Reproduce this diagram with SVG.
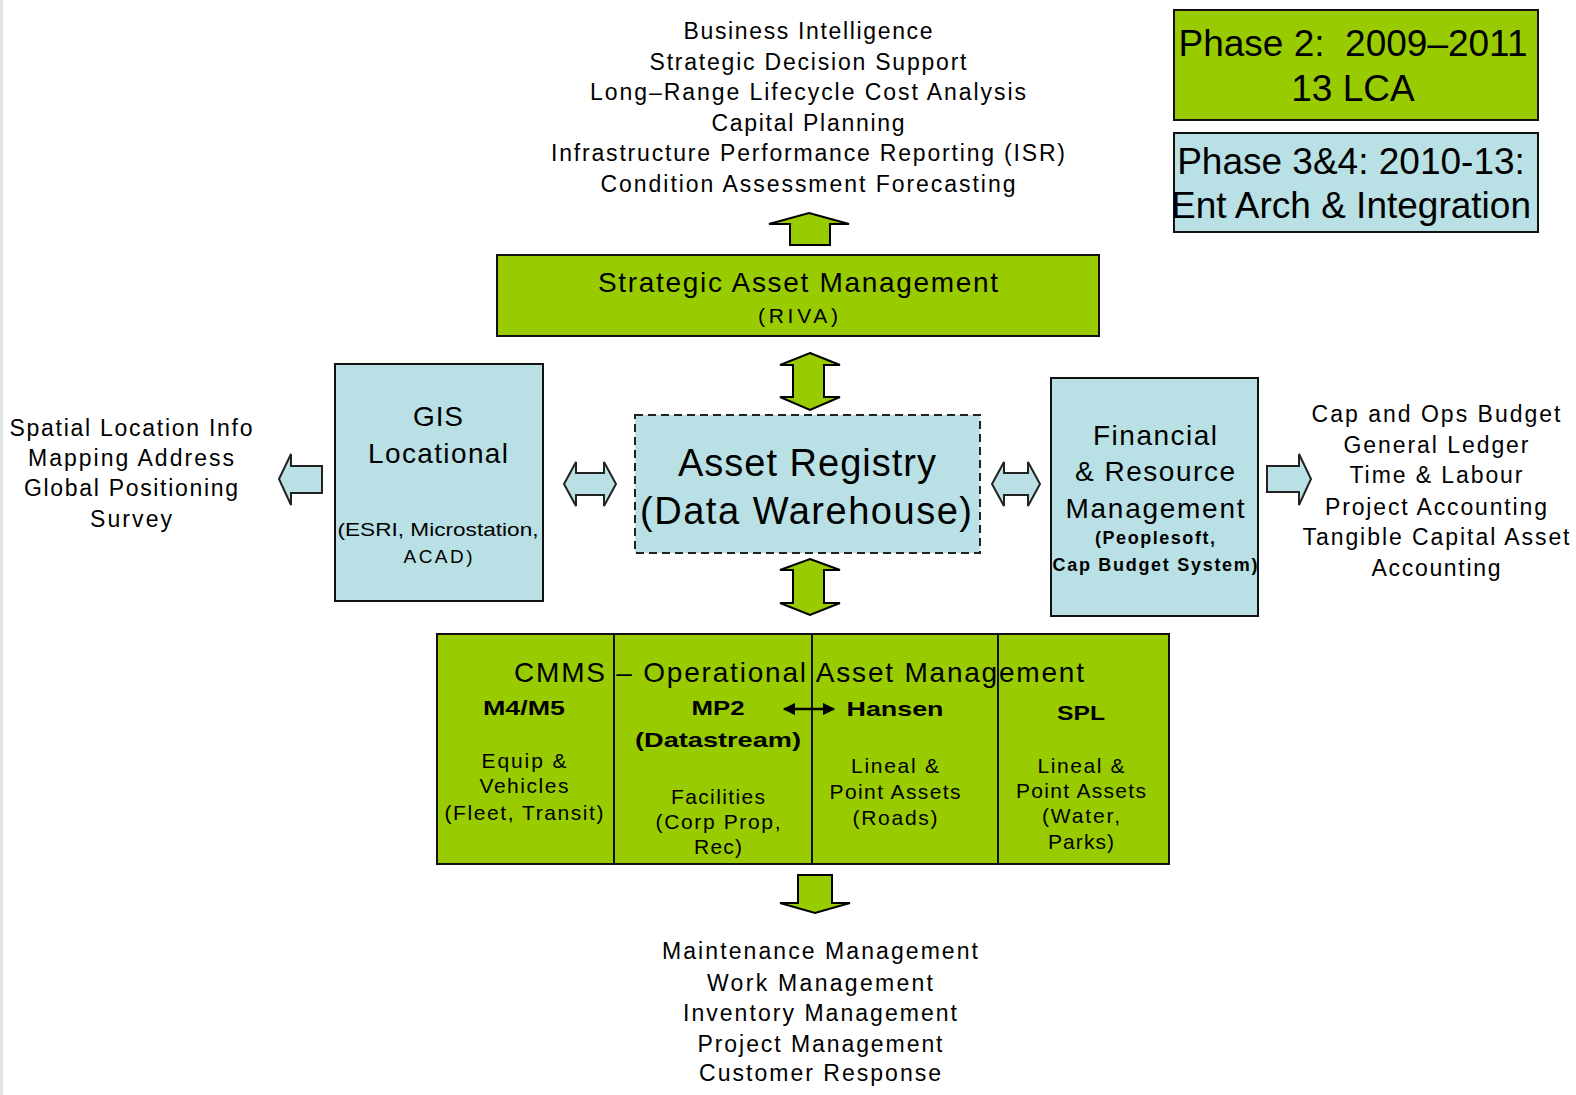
<svg xmlns="http://www.w3.org/2000/svg" width="1576" height="1095" viewBox="0 0 1576 1095">
<style>
text{font-family:"Liberation Sans",Arial,sans-serif;fill:#000;text-anchor:middle}
.t22{font-size:23px}
.t20{font-size:21px}
.t19{font-size:19px}
.b20{font-size:21px;font-weight:bold}
.green{fill:#99cc00;stroke:#111;stroke-width:2}
.blue{fill:#b9e0e4;stroke:#111;stroke-width:2}
.garrow{fill:#99cc00;stroke:#000;stroke-width:2;stroke-linejoin:miter}
.barrow{fill:#b9e0e4;stroke:#222;stroke-width:2;stroke-linejoin:miter}
.phase{font-size:37px}
</style>
<defs>
<marker id="ah" viewBox="0 0 10 10" refX="9" refY="5" markerWidth="5" markerHeight="5" orient="auto-start-reverse">
<path d="M0,0 L10,5 L0,10 z" fill="#000"/>
</marker>
</defs>
<rect width="1576" height="1095" fill="#fff"/>
<rect x="0" y="0" width="3" height="1095" fill="#dde4e4"/>

<g id="phase2">
<rect x="1174" y="10" width="364" height="110" class="green"/>
<text class="phase" x="1353" y="56">Phase 2: &#160;2009–2011</text>
<text class="phase" x="1353" y="101">13 LCA</text>
</g>
<g id="phase34">
<rect x="1174" y="133" width="364" height="99" class="blue"/>
<text class="phase" x="1351" y="174">Phase 3&amp;4: 2010-13:</text>
<text class="phase" x="1351" y="218">Ent Arch &amp; Integration</text>
</g>

<g id="top-outputs">
<text class="t22" x="808" y="39" textLength="249" lengthAdjust="spacing">Business Intelligence</text>
<text class="t22" x="808" y="70" textLength="317" lengthAdjust="spacing">Strategic Decision Support</text>
<text class="t22" x="808" y="100" textLength="436" lengthAdjust="spacing">Long–Range Lifecycle Cost Analysis</text>
<text class="t22" x="808" y="131" textLength="193" lengthAdjust="spacing">Capital Planning</text>
<text class="t22" x="808" y="161" textLength="514" lengthAdjust="spacing">Infrastructure Performance Reporting (ISR)</text>
<text class="t22" x="808" y="192" textLength="415" lengthAdjust="spacing">Condition Assessment Forecasting</text>
</g>

<g id="strategic">
<rect x="497" y="255" width="602" height="81" class="green"/>
<text x="798" y="292" style="font-size:28px" textLength="400" lengthAdjust="spacing">Strategic Asset Management</text>
<text x="798" y="323" style="font-size:21px" textLength="80" lengthAdjust="spacing">(RIVA)</text>
</g>

<g id="gis">
<rect x="335" y="364" width="208" height="237" class="blue"/>
<text x="438" y="426" style="font-size:28px" textLength="50" lengthAdjust="spacing">GIS</text>
<text x="438" y="463" style="font-size:28px" textLength="140" lengthAdjust="spacing">Locational</text>
<text class="t19" x="438" y="536" textLength="201" lengthAdjust="spacingAndGlyphs">(ESRI, Microstation,</text>
<text class="t19" x="438" y="563" textLength="69" lengthAdjust="spacing">ACAD)</text>
</g>

<g id="asset-registry">
<rect x="635" y="415" width="345" height="138" fill="#b9e0e4" stroke="#222" stroke-width="2" stroke-dasharray="8 5"/>
<text x="807" y="476" style="font-size:38px" textLength="258" lengthAdjust="spacing">Asset Registry</text>
<text x="806" y="524" style="font-size:38px" textLength="332" lengthAdjust="spacing">(Data Warehouse)</text>
</g>

<g id="financial">
<rect x="1051" y="378" width="207" height="238" class="blue"/>
<text x="1155" y="445" style="font-size:28px" textLength="124" lengthAdjust="spacing">Financial</text>
<text x="1155" y="481" style="font-size:28px" textLength="160" lengthAdjust="spacing">&amp; Resource</text>
<text x="1155" y="518" style="font-size:28px" textLength="179" lengthAdjust="spacing">Management</text>
<text x="1155" y="544" style="font-size:18px;font-weight:bold" textLength="120" lengthAdjust="spacing">(Peoplesoft,</text>
<text x="1155" y="571" style="font-size:18px;font-weight:bold" textLength="205" lengthAdjust="spacing">Cap Budget System)</text>
</g>

<g id="left-outputs">
<text class="t22" x="131" y="436" textLength="243" lengthAdjust="spacing">Spatial Location Info</text>
<text class="t22" x="131" y="466" textLength="206" lengthAdjust="spacing">Mapping Address</text>
<text class="t22" x="131" y="496" textLength="214" lengthAdjust="spacing">Global Positioning</text>
<text class="t22" x="131" y="527" textLength="82" lengthAdjust="spacing">Survey</text>
</g>

<g id="right-outputs">
<text class="t22" x="1436" y="422" textLength="249" lengthAdjust="spacing">Cap and Ops Budget</text>
<text class="t22" x="1436" y="453" textLength="185" lengthAdjust="spacing">General Ledger</text>
<text class="t22" x="1436" y="483" textLength="173" lengthAdjust="spacing">Time &amp; Labour</text>
<text class="t22" x="1436" y="515" textLength="222" lengthAdjust="spacing">Project Accounting</text>
<text class="t22" x="1436" y="545" textLength="267" lengthAdjust="spacing">Tangible Capital Asset</text>
<text class="t22" x="1436" y="576" textLength="129" lengthAdjust="spacing">Accounting</text>
</g>

<g id="cmms">
<rect x="437" y="634" width="732" height="230" class="green"/>
<text x="514" y="682" style="font-size:28px;text-anchor:start" textLength="570" lengthAdjust="spacing">CMMS – Operational Asset Management</text>
<line x1="614" y1="634" x2="614" y2="864" stroke="#111" stroke-width="2"/>
<line x1="812" y1="634" x2="812" y2="864" stroke="#111" stroke-width="2"/>
<line x1="998" y1="634" x2="998" y2="864" stroke="#111" stroke-width="2"/>
<g id="m4m5">
<text class="b20" x="524" y="715" textLength="82" lengthAdjust="spacingAndGlyphs">M4/M5</text>
<text class="t20" x="524" y="768" textLength="85" lengthAdjust="spacing">Equip &amp;</text>
<text class="t20" x="524" y="793" textLength="89" lengthAdjust="spacing">Vehicles</text>
<text class="t20" x="524" y="820" textLength="159" lengthAdjust="spacing">(Fleet, Transit)</text>
</g>
<g id="mp2">
<text class="b20" x="718" y="715" textLength="53" lengthAdjust="spacingAndGlyphs">MP2</text>
<text class="b20" x="718" y="747" textLength="166" lengthAdjust="spacingAndGlyphs">(Datastream)</text>
<text class="t20" x="718" y="804" textLength="94" lengthAdjust="spacing">Facilities</text>
<text class="t20" x="718" y="829" textLength="125" lengthAdjust="spacing">(Corp Prop,</text>
<text class="t20" x="718" y="854" textLength="48" lengthAdjust="spacing">Rec)</text>
</g>
<g id="hansen">
<text class="b20" x="895" y="716" textLength="97" lengthAdjust="spacingAndGlyphs">Hansen</text>
<text class="t20" x="895" y="773" textLength="88" lengthAdjust="spacing">Lineal &amp;</text>
<text class="t20" x="895" y="799" textLength="131" lengthAdjust="spacing">Point Assets</text>
<text class="t20" x="895" y="825" textLength="85" lengthAdjust="spacing">(Roads)</text>
</g>
<g id="spl">
<text class="b20" x="1081" y="720" textLength="48" lengthAdjust="spacingAndGlyphs">SPL</text>
<text class="t20" x="1081" y="773" textLength="87" lengthAdjust="spacing">Lineal &amp;</text>
<text class="t20" x="1081" y="798" textLength="130" lengthAdjust="spacing">Point Assets</text>
<text class="t20" x="1081" y="823" textLength="78" lengthAdjust="spacing">(Water,</text>
<text class="t20" x="1081" y="849" textLength="66" lengthAdjust="spacing">Parks)</text>
</g>
</g>

<g id="bottom-outputs">
<text class="t22" x="820" y="959" textLength="316" lengthAdjust="spacing">Maintenance Management</text>
<text class="t22" x="820" y="991" textLength="226" lengthAdjust="spacing">Work Management</text>
<text class="t22" x="820" y="1021" textLength="274" lengthAdjust="spacing">Inventory Management</text>
<text class="t22" x="820" y="1052" textLength="245" lengthAdjust="spacing">Project Management</text>
<text class="t22" x="820" y="1081" textLength="242" lengthAdjust="spacing">Customer Response</text>
</g>

<g id="connectors">
<polygon class="garrow" points="809,213 849,224 830,224 830,245 790,245 790,224 769,224"/>
<polygon class="garrow" points="810,353 840,365 824,365 824,397 840,397 810,410 780,397 793,397 793,365 780,365"/>
<polygon class="garrow" points="810,559 840,570 824,570 824,603 840,603 810,615 780,603 793,603 793,570 780,570"/>
<polygon class="garrow" points="798,875 832,875 832,903 850,903 815,913 780,903 798,903"/>
<polygon class="barrow" points="564,484 576,462 576,473 604,473 604,462 616,484 604,506 604,495 576,495 576,506"/>
<polygon class="barrow" points="992,484 1004,462 1004,473 1028,473 1028,462 1040,484 1028,506 1028,495 1004,495 1004,506"/>
<polygon class="barrow" points="279,479 291,454 291,466 322,466 322,493 291,493 291,505"/>
<polygon class="barrow" points="1267,466 1299,466 1299,454 1311,479 1299,505 1299,492 1267,492"/>
<line x1="784" y1="709" x2="834" y2="709" stroke="#000" stroke-width="2.5" marker-start="url(#ah)" marker-end="url(#ah)"/>
</g>
</svg>
